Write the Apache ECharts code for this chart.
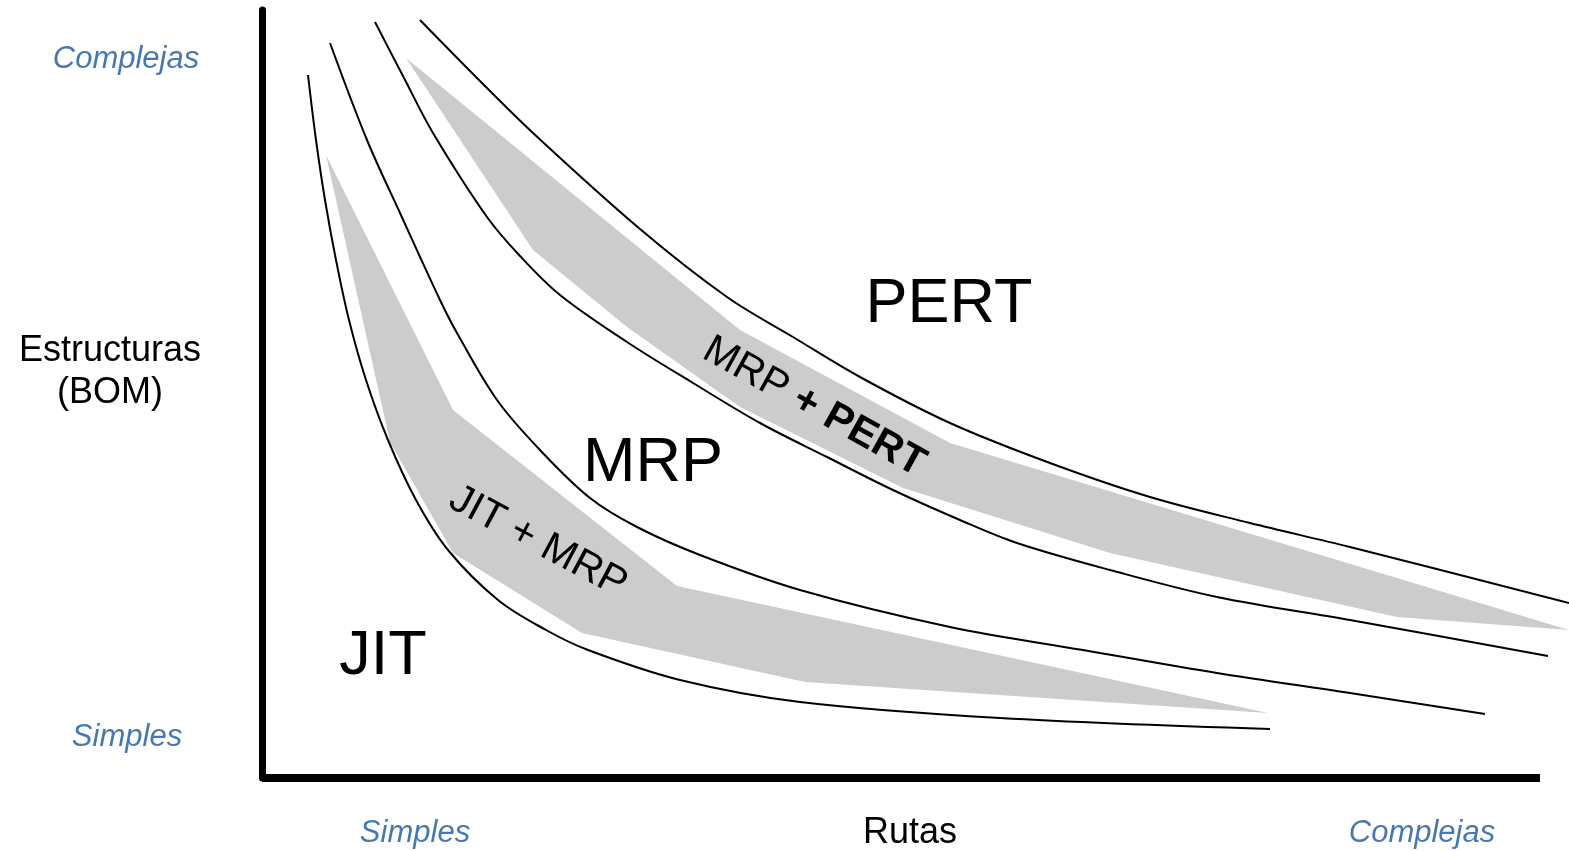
<!DOCTYPE html>
<html>
<head>
<meta charset="utf-8">
<script src="https://cdn.jsdelivr.net/npm/echarts@6/dist/echarts.min.js"></script>
<style>
html,body{margin:0;padding:0;background:#fff;}
#c{width:1569px;height:851px;}
</style>
</head>
<body>
<div id="c"></div>
<script>
// Values, in axis units (x: Rutas, y: Estructuras)
const lineJIT = [[46,703],[54,638],[63,578],[74,518],[87,458],[104,398],[126,338],[154,278],[186,228],[236,178],[284,148],[326,128],[418,98],[538,76],[738,60],[1008,49]];
const lineMRPlow = [[68,735],[105,638],[138,565],[178,478],[195,445],[235,378],[278,328],[328,280],[375,251],[438,223],[538,188],[688,151],[821,128],[955,105],[1088,85],[1223,64]];
const lineMRPhigh = [[113,756],[142,700],[171,645],[225,561],[258,522],[298,483],[365,436],[431,395],[498,355],[565,321],[631,288],[698,258],[755,235],[848,208],[955,181],[1088,158],[1286,122]];
const linePERT = [[158,758],[214,701],[271,645],[378,549],[465,481],[531,441],[598,401],[688,355],[788,315],[888,281],[988,255],[1088,231],[1307,175]];
const bandJITMRP = [[64,623],[191,368],[415,192],[1006,65],[543,96],[320,145],[191,225],[128,336]];
const bandMRPPERT = [[144,720],[478,448],[688,335],[1307,148],[1135,161],[848,225],[641,290],[478,371],[365,451],[271,528]];
const xRange = [0, 1307];
const xAxisEnd = 1278;
const yRange = [0, 768];
const xTickLabels = ['Simples', 'Rutas', 'Complejas'];
const yTickLabels = ['Complejas', 'Estructuras\n(BOM)', 'Simples'];
const regionLabels = ['JIT', 'MRP', 'PERT'];
const bandLabels = ['JIT + MRP', 'MRP ', '+ PERT'];

const FONT = '"Liberation Sans", Arial, Helvetica, sans-serif';
const BLUE = '#4878b0';

const chart = echarts.init(document.getElementById('c'), null, {renderer: 'canvas'});

function lineSeries(pts) {
  return {
    type: 'line', data: pts, smooth: 0.35, symbol: 'none', showSymbol: false,
    lineStyle: {color: '#000', width: 2}, clip: false, silent: true, z: 3
  };
}
function bandSeries(pts) {
  return {
    type: 'custom', data: [[0, 0]], clip: false, silent: true, z: 1,
    renderItem: function (params, api) {
      return {
        type: 'polygon',
        shape: {points: pts.map(function (p) { return api.coord(p); })},
        style: {fill: '#cccccc'}
      };
    }
  };
}
function txt(text, x, y, size, color, opts) {
  const o = opts || {};
  return {
    type: 'text', x: x, y: y, rotation: o.rot || 0, z: 10,
    style: {
      text: text, fontSize: size, fontFamily: FONT, fill: color,
      fontStyle: o.italic ? 'italic' : 'normal',
      fontWeight: o.bold ? 'bold' : 'normal',
      textAlign: 'center', textVerticalAlign: 'middle',
      lineHeight: o.lh || size * 1.15,
      rich: o.rich
    }
  };
}

const deg = Math.PI / 180;
chart.setOption({
  animation: false,
  grid: {left: 262, top: 10, right: 0, bottom: 73, containLabel: false},
  xAxis: {
    type: 'value', min: xRange[0], max: xRange[1],
    axisLine: {show: false},
    axisTick: {show: false}, axisLabel: {show: false}, splitLine: {show: false}
  },
  yAxis: {
    type: 'value', min: yRange[0], max: yRange[1],
    axisLine: {show: true, lineStyle: {color: '#000', width: 7}},
    axisTick: {show: false}, axisLabel: {show: false}, splitLine: {show: false}
  },
  series: [
    bandSeries(bandJITMRP),
    bandSeries(bandMRPPERT),
    lineSeries(lineJIT),
    lineSeries(lineMRPlow),
    lineSeries(lineMRPhigh),
    lineSeries(linePERT),
    {
      type: 'line', data: [], silent: true, z: 4,
      markLine: {
        symbol: 'none', silent: true, animation: false,
        label: {show: false},
        lineStyle: {color: '#000', width: 8, type: 'solid'},
        data: [[{coord: [0, 0]}, {coord: [xAxisEnd, 0]}]]
      }
    }
  ],
  graphic: [
    txt(yTickLabels[0], 126, 59, 31, BLUE, {italic: true}),
    txt(yTickLabels[1], 110, 372, 36, '#000', {lh: 42}),
    txt(yTickLabels[2], 127, 737, 31, BLUE, {italic: true}),
    txt(xTickLabels[0], 415, 833, 31, BLUE, {italic: true}),
    txt(xTickLabels[1], 910, 833, 36, '#000'),
    txt(xTickLabels[2], 1422, 833, 31, BLUE, {italic: true}),
    txt(regionLabels[0], 383, 657, 63, '#000'),
    txt(regionLabels[1], 653, 464, 63, '#000'),
    txt(regionLabels[2], 949, 305, 63, '#000'),
    txt(bandLabels[0], 538, 542, 41, '#000', {rot: -28 * deg}),
    txt('{a|' + bandLabels[1] + '}{b|' + bandLabels[2] + '}', 814, 407, 41, '#000', {rot: -29 * deg, rich: {
      a: {fontSize: 41, fontFamily: FONT, fontWeight: 'normal', fill: '#000'},
      b: {fontSize: 41, fontFamily: FONT, fontWeight: 'bold', fill: '#000'}
    }})
  ]
});
</script>
</body>
</html>
